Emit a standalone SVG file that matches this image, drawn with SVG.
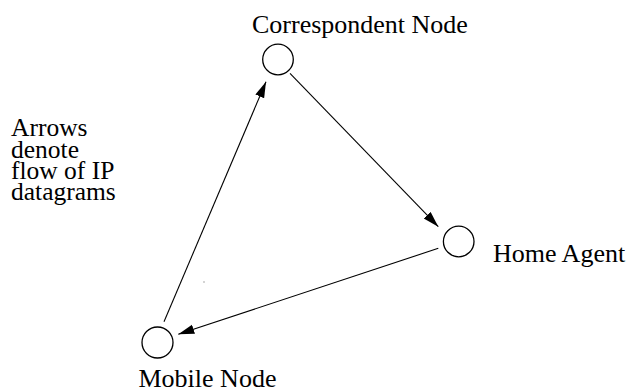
<svg xmlns="http://www.w3.org/2000/svg" width="631" height="390" viewBox="0 0 631 390">
<style>
.node{fill:#fff;stroke:#000;stroke-width:1.3}
text{font-family:'Liberation Serif','Times New Roman',Times,serif;fill:#000}
.lbl{font-size:26px}
.note{font-size:25.5px}
.edge{stroke:#000;stroke-width:1.1;fill:none;marker-end:url(#ah)}
</style>
<defs>
<marker id="ah" markerUnits="userSpaceOnUse" markerWidth="17" markerHeight="11" refX="16" refY="4.75" orient="auto">
<path d="M0,0 L16,4.75 L0,9.5 Z" fill="#000"/>
</marker>
</defs>
<rect width="631" height="390" fill="#fff"/>
<g id="connectors">
<line class="edge" x1="164" y1="321.7" x2="266" y2="81.7"/>
<line class="edge" x1="290" y1="73.3" x2="438.3" y2="226.7"/>
<line class="edge" x1="438.3" y1="248.3" x2="178.3" y2="334.3"/>
</g>
<g id="correspondent">
<circle class="node" cx="278" cy="59.5" r="15.3"/>
<text class="lbl" x="252" y="33.3">Correspondent Node</text>
</g>
<g id="home-agent">
<circle class="node" cx="458.7" cy="241.5" r="15.3"/>
<text class="lbl" x="493" y="262">Home Agent</text>
</g>
<g id="mobile">
<circle class="node" cx="157.5" cy="342.5" r="15.5"/>
<text class="lbl" x="138.5" y="386.5">Mobile Node</text>
</g>
<g id="note">
<text class="note" x="11" y="135.7">Arrows</text>
<text class="note" x="11" y="157.5">denote</text>
<text class="note" x="11" y="179">flow of IP</text>
<text class="note" x="11" y="200">datagrams</text>
</g>
<rect x="203.5" y="281.5" width="1" height="1" fill="#555"/>
</svg>
